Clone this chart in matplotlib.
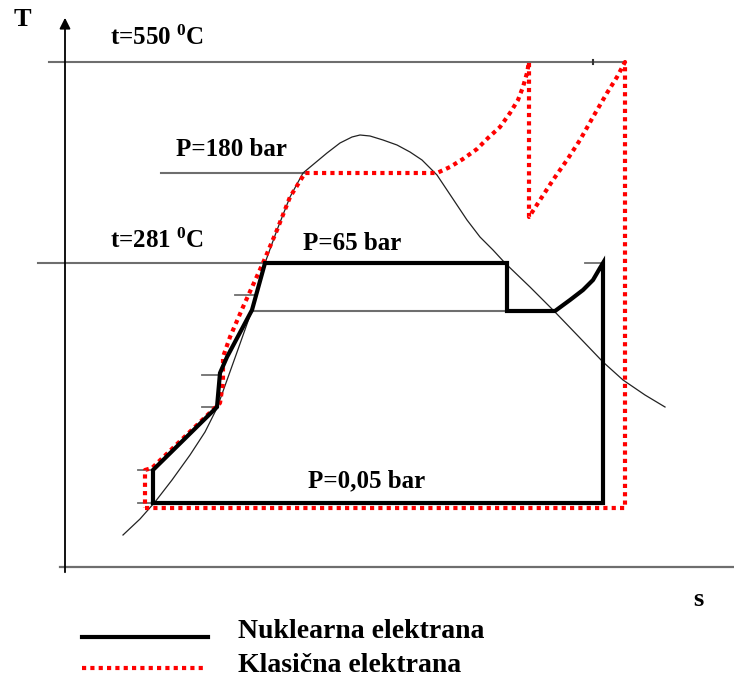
import matplotlib
matplotlib.use("Agg")
import matplotlib.pyplot as plt

plt.rcParams['font.family'] = ['Liberation Serif', 'DejaVu Serif']
plt.rcParams['mathtext.fontset'] = 'custom'
plt.rcParams['mathtext.rm'] = 'Liberation Serif:bold'
plt.rcParams['mathtext.it'] = 'Liberation Serif:bold'
plt.rcParams['mathtext.bf'] = 'Liberation Serif:bold'

# saturation dome (s, T) - schematic units
dome_s = [0.58, 0.75, 0.90, 1.07, 1.25, 1.40, 1.52, 1.71, 1.87, 2.00, 2.12, 2.25, 2.38, 2.50,
          2.62, 2.75, 2.87, 2.95, 3.05, 3.18, 3.32, 3.45, 3.57, 3.65, 3.72, 3.82, 3.92, 4.02,
          4.15, 4.28, 4.40, 4.65, 4.90, 5.15, 5.38, 5.58, 5.80, 6.00]
dome_T = [0.32, 0.48, 0.65, 0.87, 1.12, 1.35, 1.59, 2.12, 2.57, 3.04, 3.37, 3.70, 3.94, 4.04,
          4.14, 4.24, 4.30, 4.32, 4.31, 4.27, 4.22, 4.15, 4.07, 3.99, 3.92, 3.77, 3.62, 3.47,
          3.30, 3.17, 3.04, 2.80, 2.55, 2.29, 2.05, 1.87, 1.72, 1.60]

# nuclear plant cycle
nuk_s = [0.88, 5.38, 5.38, 5.35, 5.28, 5.18, 5.05, 4.90, 4.42, 4.42, 2.00, 1.87, 1.62, 1.55,
         1.52, 0.88, 0.88]
nuk_T = [0.64, 0.64, 3.04, 2.99, 2.87, 2.77, 2.67, 2.56, 2.56, 3.04, 3.04, 2.57, 2.10, 1.94,
         1.60, 0.97, 0.64]

# classic plant cycle
kla_s = [0.80, 5.60, 5.60, 5.52, 5.42, 5.28, 5.15, 5.02, 4.88, 4.75, 4.64, 4.64, 4.62, 4.58,
         4.53, 4.45, 4.35, 4.23, 4.12, 3.98, 3.85, 3.72, 2.40, 2.25, 2.12, 1.98, 1.78, 1.65,
         1.58, 1.58, 1.55, 0.87, 0.80, 0.80]
kla_T = [0.59, 0.59, 5.05, 4.90, 4.74, 4.50, 4.27, 4.07, 3.87, 3.67, 3.50, 5.05, 4.94, 4.80,
         4.67, 4.54, 4.40, 4.29, 4.18, 4.08, 4.00, 3.94, 3.94, 3.70, 3.37, 3.04, 2.60, 2.30,
         2.10, 1.84, 1.64, 0.99, 0.97, 0.59]

# horizontal reference lines: (s_start, s_end, T)
ref_lines = [(-0.16, 5.60, 5.05), (0.96, 2.40, 3.94), (-0.27, 2.00, 3.04), (1.87, 4.42, 2.56)]
ticks = [(0.73, 0.88, 0.97), (0.73, 0.88, 0.64), (1.37, 1.55, 1.92), (1.37, 1.52, 1.60),
         (1.70, 1.90, 2.72), (5.20, 5.38, 3.04)]

labels = ["t=550 $^{0}$C", "P=180 bar", "t=281 $^{0}$C", "P=65 bar", "P=0,05 bar"]
label_s = [0.45, 1.11, 0.45, 2.38, 2.43]
label_T = [5.29, 4.17, 3.26, 3.24, 0.86]

legend_names = ["Nuklearna elektrana", "Klasična elektrana"]

fig = plt.figure(figsize=(7.34, 6.77), dpi=100)
ax = fig.add_axes([0, 0, 1, 1])
ax.set_xlim(-0.65, 6.69)
ax.set_ylim(-1.10, 5.67)
ax.axis('off')

gray = '#6e6e6e'
# axes
ax.plot([-0.05, 6.69], [0, 0], color=gray, lw=1.6)
ax.annotate('', xy=(0, 5.52), xytext=(0, -0.08),
            arrowprops=dict(arrowstyle='-|>', color='black', lw=1.3, mutation_scale=16))

for s0, s1, t in ref_lines:
    ax.plot([s0, s1], [t, t], color=gray, lw=1.5)
for s0, s1, t in ticks:
    ax.plot([s0, s1], [t, t], color=gray, lw=1.3)
ax.plot([5.28, 5.28], [5.03, 5.07], color='#333333', lw=1.5)

ax.plot(dome_s, dome_T, color='#222222', lw=0.9)
ax.plot(kla_s, kla_T, color='red', lw=3, linestyle=(0, (1, 1)))
ax.plot(nuk_s, nuk_T, color='black', lw=3, solid_joinstyle='miter')

for txt, x, y in zip(labels, label_s, label_T):
    ax.text(x, y, txt, fontsize=18, fontweight='bold', va='center', ha='left')

ax.text(-0.43, 5.47, "T", fontsize=19, fontweight='bold', ha='center', va='center')
ax.text(6.33, -0.33, "s", fontsize=19, fontweight='bold', ha='center', va='center')

# legend
ax.plot([0.17, 1.43], [-0.70, -0.70], color='black', lw=3)
ax.plot([0.17, 1.39], [-1.01, -1.01], color='red', lw=3, linestyle=(0, (1, 1)))
ax.text(1.73, -0.64, legend_names[0], fontsize=20, fontweight='bold', va='center', ha='left')
ax.text(1.73, -0.98, legend_names[1], fontsize=20, fontweight='bold', va='center', ha='left')

fig.savefig("out.png", dpi=100)
